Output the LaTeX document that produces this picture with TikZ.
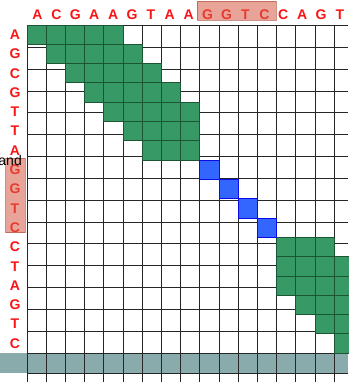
\documentclass[tikz,border=0pt]{standalone}
\usepackage{fontspec}
\setmainfont{Liberation Sans}
\usepackage{xcolor}

\definecolor{basered}{RGB}{250,20,20}
\definecolor{cellgreen}{RGB}{54,153,102}
\definecolor{cellgreenline}{RGB}{28,85,52}
\definecolor{cellblue}{RGB}{51,102,255}
\definecolor{cellblueline}{RGB}{10,10,235}
\definecolor{barteal}{RGB}{138,171,171}
\definecolor{pinkbox}{RGB}{215,90,70}

\tikzset{
  gridline/.style={draw=black!85, line width=1pt},
  greencell/.style={fill=cellgreen, draw=cellgreenline, line width=0.8pt},
  bluecell/.style={fill=cellblue, draw=cellblueline, line width=0.8pt},
  hilite/.style={fill=pinkbox, fill opacity=0.55, draw=pinkbox!80!black, draw opacity=0.6, line width=0.6pt},
  base/.style={font=\fontsize{14}{16}\selectfont\bfseries, text=basered},
}

\begin{document}
\begin{tikzpicture}[x=1pt, y=-1pt, every node/.style={inner sep=0pt}]
\useasboundingbox (0,0) rectangle (348,382);

% Bottom bar
\fill[barteal] (0,353) rectangle (348,373);

% Grid
\foreach \k in {0,...,16}
  \draw[gridline] ({27+19.2*\k},25.7) -- ({27+19.2*\k},382);
\foreach \j in {0,...,15}
  \draw[gridline] (27,{25.7+21.82*\j}) -- (348,{25.7+21.82*\j});
\draw[gridline] (27,373) -- (348,373);

% Matching cells (row/first col/last col)
\foreach \r/\a/\b in {0/0/4, 1/1/5, 2/2/6, 3/3/7, 4/4/8, 5/5/8, 6/6/8,
                      11/13/15, 12/13/16, 13/13/16, 14/14/16, 15/15/16, 16/16/16}
  \foreach \k in {\a,...,\b}
    \draw[greencell] ({27+19.2*\k},{25+19.3*\r}) rectangle ++(19.2,19.3);
\foreach \k/\r in {9/7, 10/8, 11/9, 12/10}
  \draw[bluecell] ({27+19.2*\k},{25+19.3*\r}) rectangle ++(19.2,19.3);

% Sequence letters
\foreach \c [count=\i from 0] in {A,C,G,A,A,G,T,A,A,G,G,T,C,C,A,G,T}
  \node[base] (top\i) at ({37.5+18.9*\i},14.3) {\c};
\foreach \c [count=\i from 0] in {A,G,C,G,T,T,A,G,G,T,C,C,T,A,G,T,C}
  \node[base] (side\i) at (15,{34.65+19.3*\i}) {\c};

% Highlighted stretch
\draw[hilite] (197,1) rectangle (276,20);
\draw[hilite] (5.7,158.3) rectangle (25,232.7);

\node[font=\fontsize{14}{16}\selectfont, anchor=base east] (cut) at (22,165) {and};
\end{tikzpicture}
\end{document}
